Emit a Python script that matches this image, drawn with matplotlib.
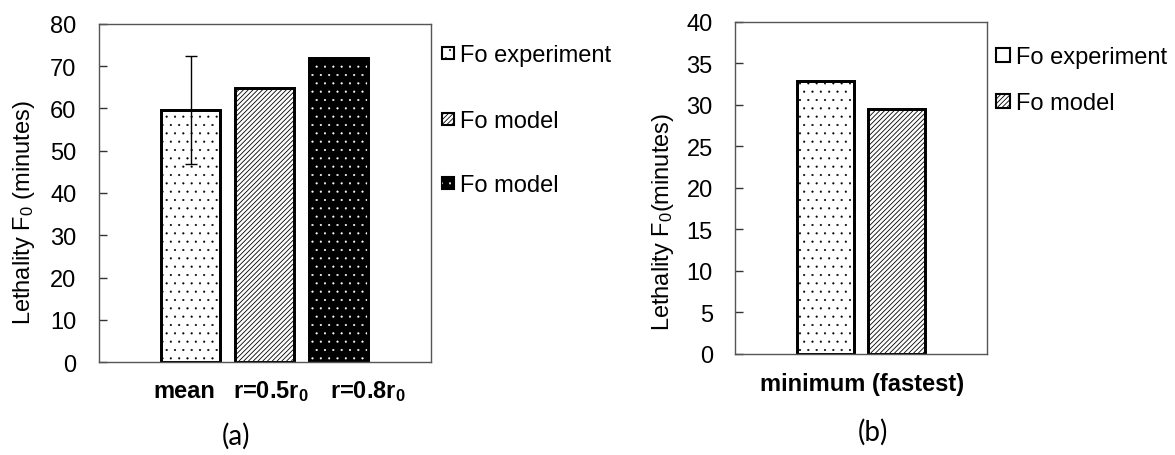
import matplotlib
matplotlib.use("Agg")
import matplotlib.pyplot as plt
from matplotlib.patches import Rectangle
import numpy as np

# panel (a): mean F0 from experiment vs model at two radii
a_labels = ["mean", "r=0.5r$_\\mathbf{0}$", "r=0.8r$_\\mathbf{0}$"]
a_values = [59.6, 64.8, 71.9]
a_err = [12.85, 0, 0]
# panel (b): minimum (fastest) F0
b_label = "minimum (fastest)"
b_values = [32.9, 29.5]
legend_a = ["Fo experiment", "Fo model", "Fo model"]
legend_b = ["Fo experiment", "Fo model"]

plt.rcParams["font.family"] = ["Liberation Sans", "DejaVu Sans"]
plt.rcParams["mathtext.fontset"] = "custom"
plt.rcParams["mathtext.rm"] = "Liberation Sans"
plt.rcParams["mathtext.bf"] = "Liberation Sans:bold"
plt.rcParams["mathtext.default"] = "regular"

W, H = 1175, 456
fig = plt.figure(figsize=(W / 100, H / 100), dpi=100)

DOTS = ".."
LINES = "///////"
HLW = {DOTS: 0.3, LINES: 0.6}


def fx(px):
    return px / W


def fy(py):
    return 1 - py / H


def hatch_lw(patches, hatch):
    for p in patches:
        if hasattr(p, "set_hatch_linewidth"):
            p.set_hatch_linewidth(HLW[hatch])


def hbar(ax, x, h, hatch, face="white", hcolor="black"):
    # filled bar, then hatch layer, outline stays black
    plt.rcParams["hatch.linewidth"] = HLW[hatch]
    ax.bar(x, h, 0.8, facecolor=face, edgecolor="black", linewidth=2.0, zorder=2)
    bars = ax.bar(x, h, 0.8, facecolor="none", edgecolor=hcolor, linewidth=0,
                  hatch=hatch, zorder=2)
    hatch_lw(bars, hatch)
    ax.bar(x, h, 0.8, facecolor="none", edgecolor="black", linewidth=2.0, zorder=2)


def make_ax(l, r, t, b):
    return fig.add_axes([fx(l), fy(b), fx(r) - fx(l), fy(t) - fy(b)])


def style_ax(ax, ymax, step):
    ax.set_ylim(0, ymax)
    ax.set_yticks(np.arange(0, ymax + 1, step))
    ax.set_xticks([])
    ax.tick_params(axis="y", direction="in", length=5.8, width=1.0,
                   pad=16, labelsize=17, color="#333333")
    for s in ax.spines.values():
        s.set_color("#555555")
        s.set_linewidth(1.0)


def legend_item(x, yc, size, text, face, hatch=None, hcolor="black"):
    fig.add_artist(Rectangle((fx(x), fy(yc + size / 2)), size / W, size / H,
                             transform=fig.transFigure, facecolor=face,
                             edgecolor="black", linewidth=1.5))
    if hatch:
        plt.rcParams["hatch.linewidth"] = HLW[hatch]
        r = Rectangle((fx(x), fy(yc + size / 2)), size / W, size / H,
                      transform=fig.transFigure, facecolor="none",
                      edgecolor=hcolor, linewidth=0, hatch=hatch)
        hatch_lw([r], hatch)
        fig.add_artist(r)
    fig.text(fx(x + size + 6), fy(yc + 8), text, fontsize=17, va="baseline", ha="left")


# ---- panel (a)
ax1 = make_ax(98.7, 430.5, 24.7, 363.3)
xa = np.arange(len(a_values))
hbar(ax1, xa[0], a_values[0], DOTS)
hbar(ax1, xa[1], a_values[1], LINES)
hbar(ax1, xa[2], a_values[2], DOTS, face="black", hcolor="white")
ax1.errorbar(xa[0], a_values[0], yerr=a_err[0], color="black", lw=1.0,
             capsize=4, capthick=1.0, zorder=3)
ax1.set_xlim(1 - 2.242, 1 + 2.242)
style_ax(ax1, 80, 10)

for cx, lab in zip([184, 271, 368], a_labels):
    fig.text(fx(cx), fy(392), lab, fontsize=17, fontweight="bold",
             ha="center", va="center")

fig.text(fx(24), fy(213), "Lethality F$_0$ (minutes)", fontsize=17,
         rotation=90, ha="center", va="center")
fig.text(fx(236), fy(436), "(a)", fontsize=20, family=["Lato", "DejaVu Sans"],
         ha="center", va="center")

legend_item(442, 54, 12, legend_a[0], "white", DOTS)
legend_item(442, 120, 12, legend_a[1], "white", LINES)
legend_item(442, 184, 12, legend_a[2], "black", DOTS, "white")

# ---- panel (b)
ax2 = make_ax(735, 987, 22.7, 354.7)
xb = np.arange(len(b_values))
hbar(ax2, xb[0], b_values[0], DOTS)
hbar(ax2, xb[1], b_values[1], LINES)
ax2.set_xlim(0.5 - 1.762, 0.5 + 1.762)
style_ax(ax2, 40, 5)

fig.text(fx(862), fy(385), b_label, fontsize=17, fontweight="bold",
         ha="center", va="center")
fig.text(fx(663), fy(222), "Lethality F$_0$(minutes)", fontsize=17,
         rotation=90, ha="center", va="center")
fig.text(fx(873), fy(432), "(b)", fontsize=20, family=["Lato", "DejaVu Sans"],
         ha="center", va="center")

legend_item(996, 56, 14, legend_b[0], "white")
legend_item(996, 102, 14, legend_b[1], "white", LINES)

fig.savefig("out.png", dpi=100)
